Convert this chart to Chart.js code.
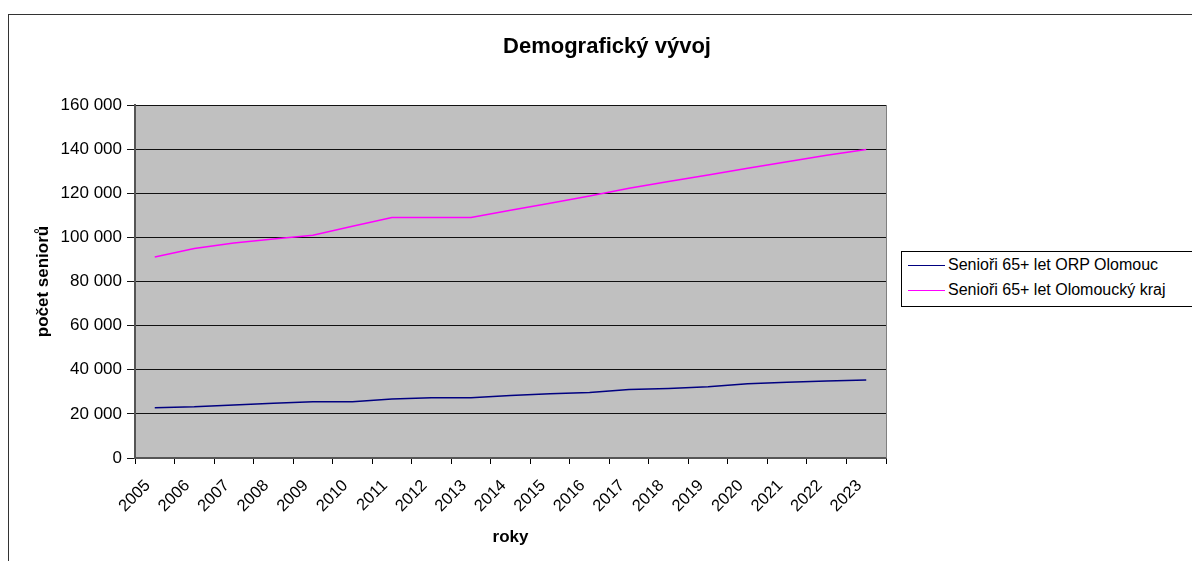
<!DOCTYPE html>
<html>
<head>
<meta charset="utf-8">
<script src="https://cdn.jsdelivr.net/npm/chart.js@4"></script>
<style>
  html, body { margin: 0; padding: 0; background: #fff; overflow: hidden; }
  body { width: 1192px; height: 561px; position: relative; font-family: "Liberation Sans", Arial, sans-serif; }
  #frame { position: absolute; left: 8px; top: 14px; width: 1300px; height: 700px; border: 1px solid #333; }
  #title { position: absolute; left: 0; top: 35px; width: 1214px; text-align: center; font-weight: bold; font-size: 22px; line-height: 22px; color: #000; }
  #legend { position: absolute; left: 901px; top: 251px; width: 400px; height: 54px; border: 1px solid #000; background: #fff; font-size: 16px; color: #000; }
  .item { position: absolute; left: 6px; height: 18px; line-height: 18px; white-space: nowrap; }
  .item span.ln { display: inline-block; width: 37px; height: 1px; vertical-align: middle; margin-right: 3px; }
  canvas { position: absolute; left: 0; top: 0; }
</style>
</head>
<body>
<div id="frame"></div>
<canvas id="chart" width="1192" height="561"></canvas>
<div id="title">Demografický vývoj</div>
<div id="legend"></div>
<script>
// Data
const years = ['2005','2006','2007','2008','2009','2010','2011','2012','2013','2014',
               '2015','2016','2017','2018','2019','2020','2021','2022','2023'];
const orpOlomouc = [22800, 23200, 24000, 24800, 25500, 25500, 26700, 27300, 27300, 28300,
                    29100, 29700, 31000, 31500, 32300, 33600, 34300, 34900, 35300];
const olomouckyKraj = [91100, 95000, 97500, 99300, 101000, 105000, 109000, 109000, 109000, 112300,
                       115500, 118800, 122300, 125300, 128300, 131300, 134300, 137200, 139800];
const seriesNames = ['Senioři 65+ let ORP Olomouc', 'Senioři 65+ let Olomoucký kraj'];
const seriesColors = ['#000080', '#ff00ff'];

// pozadí a rámeček plochy grafu
const plotBg = {
    id: 'plotBg',
    beforeDraw(chart) {
        const a = chart.chartArea, c = chart.ctx;
        c.save();
        c.fillStyle = '#c0c0c0';
        c.fillRect(a.left, a.top, a.right - a.left, a.bottom - a.top);
        c.restore();
    },
    afterDraw(chart) {
        const a = chart.chartArea, c = chart.ctx;
        c.save();
        c.strokeStyle = '#808080';
        c.lineWidth = 1;
        c.beginPath();
        c.moveTo(a.right + 0.5, a.top);
        c.lineTo(a.right + 0.5, a.bottom);
        c.stroke();
        c.restore();
    }
};

const fmt = v => String(v).replace(/\B(?=(\d{3})+(?!\d))/g, ' ');
const font = (size, bold) => ({ family: 'Liberation Sans', size: size, weight: bold ? 'bold' : 'normal' });

const chart = new Chart(document.getElementById('chart'), {
    type: 'line',
    data: {
        labels: years,
        datasets: [
            { label: seriesNames[0], data: orpOlomouc, borderColor: seriesColors[0], borderWidth: 1.5, pointRadius: 0, tension: 0 },
            { label: seriesNames[1], data: olomouckyKraj, borderColor: seriesColors[1], borderWidth: 1.5, pointRadius: 0, tension: 0 }
        ]
    },
    options: {
        responsive: false,
        animation: false,
        layout: { padding: { left: 33, top: 105, right: 306, bottom: 0 } },
        plugins: {
            legend: { display: false },
            title: { display: false },
            tooltip: { enabled: false }
        },
        scales: {
            x: {
                offset: true,
                grid: { offset: true, drawOnChartArea: false, drawTicks: true, tickLength: 6, color: '#000' },
                border: { color: '#555', width: 2 },
                ticks: { color: '#000', font: font(16.5), maxRotation: 45, minRotation: 45, autoSkip: false, padding: 12, labelOffset: -7 },
                title: { display: true, text: 'roky', color: '#000', font: font(17, true), padding: { top: 0, bottom: 13 } },
                afterFit: s => { s.height = 103; }
            },
            y: {
                min: 0,
                max: 160000,
                grid: { color: '#111', lineWidth: 1, tickLength: 8, drawTicks: true },
                border: { color: '#555', width: 2 },
                ticks: { stepSize: 20000, color: '#000', font: font(17), padding: 5, callback: v => fmt(v) },
                title: { display: true, text: 'počet seniorů', color: '#000', font: font(17, true), padding: { top: 0, bottom: 0 } },
                afterFit: s => { s.width = 102; }
            }
        }
    },
    plugins: [plotBg]
});

// legenda
const legend = document.getElementById('legend');
chart.data.datasets.forEach((ds, i) => {
    const row = document.createElement('div');
    row.className = 'item';
    row.style.top = (4 + i * 25) + 'px';
    row.innerHTML = '<span class="ln" style="background:' + ds.borderColor + '"></span>' + ds.label;
    legend.appendChild(row);
});
</script>
</body>
</html>
